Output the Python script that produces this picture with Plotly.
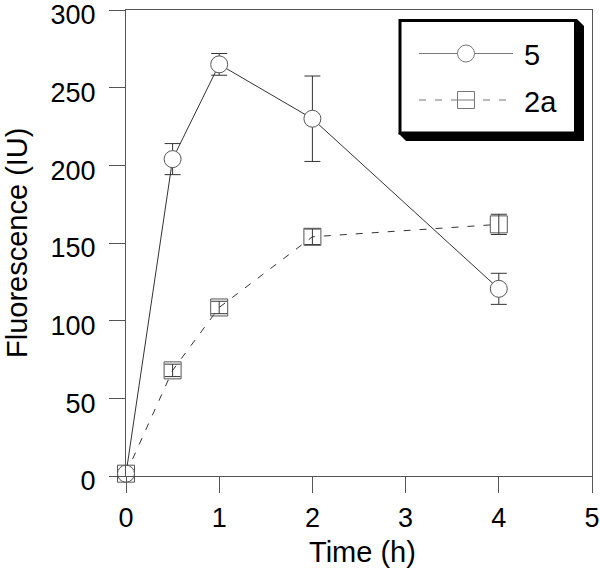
"""Fluorescence vs time for compounds 5 and 2a."""

import plotly.graph_objects as go

# data
time_h = [0, 0.5, 1, 2, 4]
fluor_5 = [1.5, 204, 265, 230, 120.5]
err_5 = [0, 10, 7, 27.5, 10]
fluor_2a = [1.5, 68, 108.5, 154, 162]
err_2a = [0, 4, 4, 5, 6.5]

x_ticks = [0, 1, 2, 3, 4, 5]
y_ticks = [0, 50, 100, 150, 200, 250, 300]

FONT = "Liberation Sans, Arial, sans-serif"
W, H = 600, 570
L, R, T, B = 126, 8, 10, 94
PW, PH = W - L - R, H - T - B


def px(x):
    return (x - L) / PW


def py(y):
    return (H - B - y) / PH


fig = go.Figure()

fig.add_trace(
    go.Scatter(
        x=time_h,
        y=fluor_2a,
        name="2a",
        mode="lines+markers",
        line=dict(color="#333", width=1, dash="7px,9px"),
        marker=dict(symbol="square-open", size=17, color="#555", line=dict(width=1)),
        error_y=dict(type="data", array=err_2a, color="#333", thickness=1, width=8),
        cliponaxis=False,
    )
)
fig.add_trace(
    go.Scatter(
        x=time_h,
        y=fluor_5,
        name="5",
        mode="lines+markers",
        line=dict(color="#333", width=1),
        marker=dict(symbol="circle", size=17, color="white", line=dict(color="#555", width=1)),
        error_y=dict(type="data", array=err_5, color="#333", thickness=1, width=8),
        cliponaxis=False,
    )
)

# hand-drawn legend box with drop shadow
shadow = [(577, 19), (584, 26), (584, 141), (406, 141), (398, 133), (577, 133)]
path = "M" + " L".join(f"{px(a):.4f},{py(b):.4f}" for a, b in shadow) + " Z"
shapes = [
    dict(type="path", xref="paper", yref="paper", path=path,
         fillcolor="black", line=dict(width=0)),
    dict(type="rect", xref="paper", yref="paper",
         x0=px(400), x1=px(575.5), y0=py(133), y1=py(20.5),
         fillcolor="white", line=dict(color="black", width=3)),
    dict(type="line", xref="paper", yref="paper",
         x0=px(419), x1=px(513), y0=py(53.5), y1=py(53.5),
         line=dict(color="#777", width=1)),
    dict(type="circle", xref="paper", yref="paper",
         xsizemode="pixel", ysizemode="pixel",
         xanchor=px(466), yanchor=py(53.5), x0=-8.5, x1=8.5, y0=-8.5, y1=8.5,
         fillcolor="white", line=dict(color="#777", width=1)),
    dict(type="line", xref="paper", yref="paper",
         x0=px(419), x1=px(513), y0=py(100), y1=py(100),
         line=dict(color="#777", width=1, dash="7px,9px")),
    dict(type="rect", xref="paper", yref="paper",
         xsizemode="pixel", ysizemode="pixel",
         xanchor=px(466), yanchor=py(100), x0=-8.5, x1=8.5, y0=-8.5, y1=8.5,
         fillcolor="white", line=dict(color="#777", width=1)),
    dict(type="line", xref="paper", yref="paper",
         xsizemode="pixel", xanchor=px(466), x0=-8.5, x1=8.5,
         y0=py(100), y1=py(100), line=dict(color="#777", width=1)),
]

text_font = dict(family=FONT, size=29, color="black")
title_font = dict(family=FONT, size=29, color="black")
annotations = [
    dict(xref="paper", yref="paper", x=px(522), y=py(55), text="5",
         showarrow=False, xanchor="left", yanchor="middle", font=text_font),
    dict(xref="paper", yref="paper", x=px(522), y=py(102), text="2a",
         showarrow=False, xanchor="left", yanchor="middle", font=text_font),
    # axis titles
    dict(xref="paper", yref="paper", x=px(362), y=py(552), text="Time (h)",
         showarrow=False, xanchor="center", yanchor="middle", font=title_font),
    dict(xref="paper", yref="paper", x=px(17), y=py(243), text="Fluorescence (IU)",
         showarrow=False, xanchor="center", yanchor="middle", textangle=-90,
         font=title_font),
]

axis_common = dict(
    showline=True,
    mirror=True,
    linecolor="#555",
    linewidth=1,
    ticks="outside",
    ticklen=16,
    tickcolor="#555",
    tickwidth=1,
    showgrid=False,
    zeroline=False,
    ticklabeloverflow="allow",
    tickfont=dict(family=FONT, size=27, color="black"),
)

fig.update_layout(
    width=W,
    height=H,
    margin=dict(l=L, r=R, t=T, b=B, autoexpand=False),
    plot_bgcolor="white",
    paper_bgcolor="white",
    showlegend=False,
    shapes=shapes,
    annotations=annotations,
    xaxis=dict(range=[0, 5], tickvals=x_ticks, ticklabelstandoff=2, **axis_common),
    yaxis=dict(range=[0, 300], tickvals=y_ticks, ticklabelstandoff=8,
               ticklabelshift=5, **axis_common),
)

# the page's default body margin would shift the figure by 8px
fig.write_html(
    "out.html",
    config={"displayModeBar": False},
    post_script="document.body.style.margin='0';",
)
